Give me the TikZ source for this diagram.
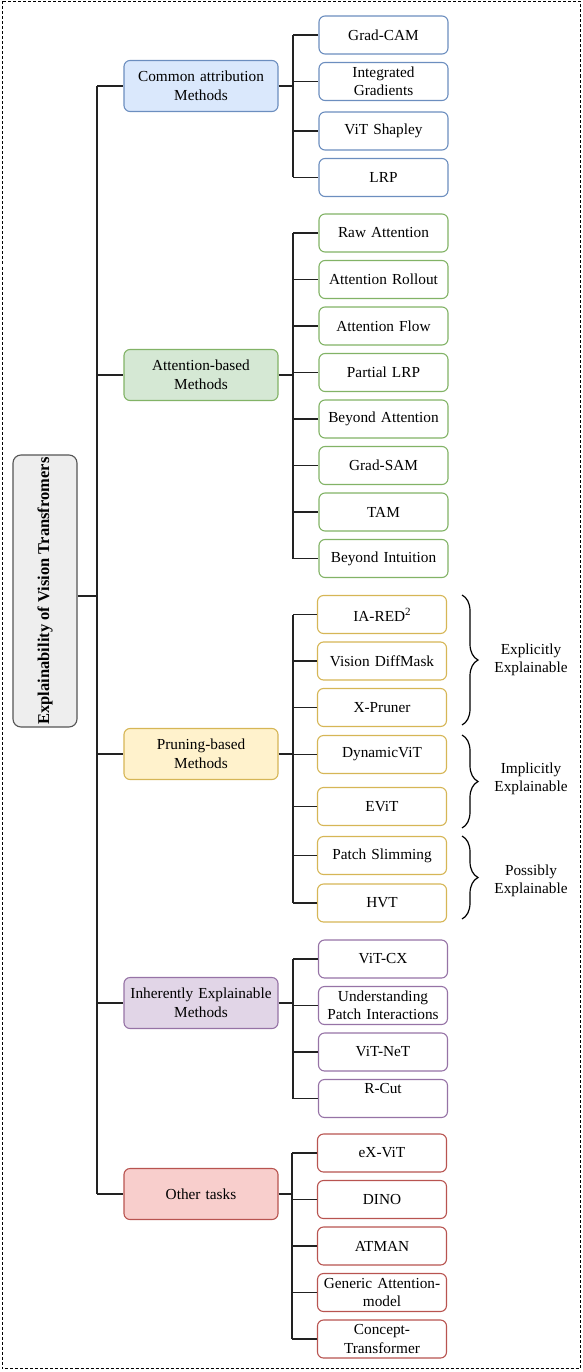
\documentclass[tikz,border=0pt]{standalone}
\usepackage{fontspec}
\setmainfont{Liberation Serif}
\usetikzlibrary{decorations.pathreplacing}
\definecolor{bluef}{HTML}{DAE8FC}\definecolor{blued}{HTML}{6C8EBF}
\definecolor{greenf}{HTML}{D5E8D4}\definecolor{greend}{HTML}{82B366}
\definecolor{yellf}{HTML}{FFF2CC}\definecolor{yelld}{HTML}{D6B656}
\definecolor{purpf}{HTML}{E1D5E7}\definecolor{purpd}{HTML}{9673A6}
\definecolor{redf}{HTML}{F8CECC}\definecolor{redd}{HTML}{B85450}
\definecolor{rootf}{HTML}{EEEEEE}\definecolor{rootd}{HTML}{555555}
\definecolor{linec}{HTML}{222222}
\newcommand\fsz{\fontsize{15.3}{18.5}\selectfont}
\tikzset{
  box/.style={draw, rounded corners=6pt, line width=1.1pt, align=center, inner sep=1pt, font=\fsz},
  leaf/.style={box, fill=white, minimum width=129pt, text width=127pt, minimum height=38pt},
  cat/.style={box, minimum width=154pt, text width=152pt, minimum height=51pt},
  conn/.style={draw=linec, line width=1.3pt},
  brc/.style={draw=black, line width=1.2pt, decorate, decoration={brace, amplitude=16pt}},
  lab/.style={align=center, font=\fsz, inner sep=0pt},
}
\begin{document}
\begin{tikzpicture}[x=1pt, y=-1pt]
\useasboundingbox (0,0) rectangle (582,1372);
\draw[line width=1pt, dash pattern=on 3pt off 2pt] (2,1.5) rectangle (580,1368);

% root
\node[draw=rootd, fill=rootf, rounded corners=8pt, line width=1.1pt, minimum width=64pt, minimum height=272pt, inner sep=0pt] (root) at (45,591) {};
\node[rotate=90, font=\fontsize{16.5}{19}\selectfont\bfseries, inner sep=0pt] (roottxt) at (root.center) {Explainability of Vision Transfromers};

% categories
\node[cat, draw=blued, fill=bluef] (cA) at (201,86) {Common attribution\\Methods};
\node[cat, draw=greend, fill=greenf] (cB) at (201,375) {Attention-based\\Methods};
\node[cat, draw=yelld, fill=yellf] (cC) at (201,754) {Pruning-based\\Methods};
\node[cat, draw=purpd, fill=purpf] (cD) at (201,1003) {Inherently Explainable\\Methods};
\node[cat, draw=redd, fill=redf] (cE) at (201,1194) {Other tasks};

% trunk
\coordinate (tr) at (97,596);
\draw[conn] (root.east |- tr) -- (tr);
\draw[conn] (tr |- cA) -- (tr |- cE);
\foreach \c in {cA,cB,cC,cD,cE} \draw[conn] (tr |- \c) -- (\c.west);

% leaves A
\node[leaf, draw=blued] (a1) at (383.5,35) {Grad-CAM};
\node[leaf, draw=blued] (a2) at (383.5,81.5) {Integrated\\Gradients};
\node[leaf, draw=blued] (a3) at (383.5,131) {ViT Shapley};
\node[leaf, draw=blued] (a4) at (383.5,177.5) {LRP};
% leaves B
\node[leaf, draw=greend] (b1) at (383.5,233) {Raw Attention};
\node[leaf, draw=greend] (b2) at (383.5,279.5) {Attention Rollout};
\node[leaf, draw=greend] (b3) at (383.5,326) {Attention Flow};
\node[leaf, draw=greend] (b4) at (383.5,372.5) {Partial LRP};
\node[leaf, draw=greend] (b5) at (383.5,419) {Beyond Attention};
\node[leaf, draw=greend] (b6) at (383.5,465.5) {Grad-SAM};
\node[leaf, draw=greend] (b7) at (383.5,512) {TAM};
\node[leaf, draw=greend] (b8) at (383.5,558.5) {Beyond Intuition};
% leaves C
\node[leaf, draw=yelld] (c1) at (382,614.5) {IA-RED{\fontsize{11}{12}\selectfont\raisebox{0.55em}{2}}};
\node[leaf, draw=yelld] (c2) at (382,661) {Vision DiffMask};
\node[leaf, draw=yelld] (c3) at (382,707.5) {X-Pruner};
\node[leaf, draw=yelld] (c4) at (382,754.5) {DynamicViT};
\node[leaf, draw=yelld] (c5) at (382,806.5) {EViT};
\node[leaf, draw=yelld] (c6) at (382,855.5) {Patch Slimming};
\node[leaf, draw=yelld] (c7) at (382,903) {HVT};
% leaves D
\node[leaf, draw=purpd] (d1) at (383,959) {ViT-CX};
\node[leaf, draw=purpd] (d2) at (383,1005.5) {Understanding\\Patch Interactions};
\node[leaf, draw=purpd] (d3) at (383,1052) {ViT-NeT};
\node[leaf, draw=purpd, align=center] (d4) at (383,1098.5) {R-Cut\\[-3pt]\strut};
% leaves E
\node[leaf, draw=redd] (e1) at (382,1153) {eX-ViT};
\node[leaf, draw=redd] (e2) at (382,1199.5) {DINO};
\node[leaf, draw=redd] (e3) at (382,1246) {ATMAN};
\node[leaf, draw=redd] (e4) at (382,1292.5) {Generic Attention-\\model};
\node[leaf, draw=redd] (e5) at (382,1339) {Concept-\\Transformer};

% branches
\coordinate (jA) at (293,86);
\draw[conn] (cA.east) -- (jA);
\draw[conn] (jA |- a1) -- (jA |- a4);
\foreach \l in {a1,a2,a3,a4} \draw[conn] (jA |- \l) -- (\l.west);

\coordinate (jB) at (293,375);
\draw[conn] (cB.east) -- (jB);
\draw[conn] (jB |- b1) -- (jB |- b8);
\foreach \l in {b1,b2,b3,b4,b5,b6,b7,b8} \draw[conn] (jB |- \l) -- (\l.west);

\coordinate (jC) at (293,754);
\draw[conn] (cC.east) -- (jC);
\draw[conn] (jC |- c1) -- (jC |- c7);
\foreach \l in {c1,c2,c3,c4,c5,c6,c7} \draw[conn] (jC |- \l) -- (\l.west);

\coordinate (jD) at (293,1003);
\draw[conn] (cD.east) -- (jD);
\draw[conn] (jD |- d1) -- (jD |- d4);
\foreach \l in {d1,d2,d3,d4} \draw[conn] (jD |- \l) -- (\l.west);

\coordinate (jE) at (292,1194);
\draw[conn] (cE.east) -- (jE);
\draw[conn] (jE |- e1) -- (jE |- e5);
\foreach \l in {e1,e2,e3,e4,e5} \draw[conn] (jE |- \l) -- (\l.west);

% braces
\coordinate (p1t) at (462,595); \coordinate (p1b) at (462,725);
\coordinate (p2t) at (462,735); \coordinate (p2b) at (462,828);
\coordinate (p3t) at (462,836); \coordinate (p3b) at (462,919);
\draw[brc] (p1t) -- (p1b);
\draw[brc] (p2t) -- (p2b);
\draw[brc] (p3t) -- (p3b);
\node[lab] (l1) at (531,660) {Explicitly\\Explainable};
\node[lab] (l2) at (531,779) {Implicitly\\Explainable};
\node[lab] (l3) at (531,881) {Possibly\\Explainable};
\end{tikzpicture}
\end{document}
